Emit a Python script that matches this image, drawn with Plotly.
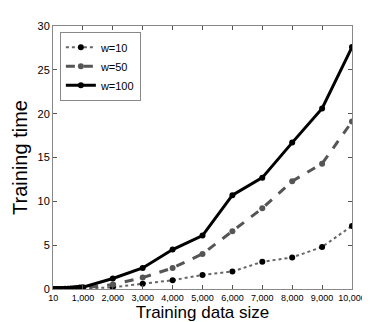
import plotly.graph_objects as go

x_sizes = [10, 100, 200, 300, 400, 500, 600, 700, 800, 900, 1000,
           2000, 3000, 4000, 5000, 6000, 7000, 8000, 9000, 10000]
w10 = [0.0, 0.0, 0.0, 0.0, 0.0, 0.0, 0.0, 0.01, 0.01, 0.02, 0.03,
       0.2, 0.6, 1.0, 1.6, 2.0, 3.1, 3.6, 4.8, 7.2]
w50 = [0.0, 0.0, 0.0, 0.0, 0.01, 0.02, 0.03, 0.04, 0.06, 0.08, 0.1,
       0.5, 1.3, 2.4, 4.0, 6.6, 9.2, 12.3, 14.3, 19.1]
w100 = [0.0, 0.0, 0.0, 0.01, 0.02, 0.04, 0.06, 0.09, 0.12, 0.16, 0.2,
        1.2, 2.4, 4.5, 6.1, 10.7, 12.7, 16.7, 20.6, 27.6]

x_ticks = [10, 1000, 2000, 3000, 4000, 5000, 6000, 7000, 8000, 9000, 10000]
x_tick_text = ["10", "1,000", "2,000", "3,000", "4,000", "5,000",
               "6,000", "7,000", "8,000", "9,000", "10,000"]
y_ticks = [0, 5, 10, 15, 20, 25, 30]

FONT = "Liberation Sans"

fig = go.Figure()
fig.add_trace(go.Scatter(
    x=x_sizes, y=w10, name="w=10", mode="lines+markers",
    line=dict(color="#666666", width=2, dash="dot"),
    marker=dict(color="black", size=6, symbol="circle")))
fig.add_trace(go.Scatter(
    x=x_sizes, y=w50, name="w=50", mode="lines+markers",
    line=dict(color="#555555", width=3, dash="dash"),
    marker=dict(color="#555555", size=6, symbol="circle")))
fig.add_trace(go.Scatter(
    x=x_sizes, y=w100, name="w=100", mode="lines+markers",
    line=dict(color="black", width=3),
    marker=dict(color="black", size=6, symbol="circle")))

axis_common = dict(
    showgrid=False, zeroline=False, showline=True, mirror="ticks",
    linecolor="#888888", linewidth=1, ticks="inside", ticklen=4,
    tickcolor="#555555")

fig.update_xaxes(range=[0, 10000], tickvals=x_ticks, ticktext=x_tick_text,
                 tickangle=0, tickfont=dict(family=FONT, size=9, color="black"),
                 title=dict(text="Training data size", standoff=3,
                            font=dict(family=FONT, size=17, color="black")),
                 **axis_common)
fig.update_yaxes(range=[0, 30], tickvals=y_ticks,
                 tickfont=dict(family=FONT, size=11, color="black"),
                 title=dict(text="Training time", standoff=4,
                            font=dict(family=FONT, size=20, color="black")),
                 **axis_common)

fig.update_layout(
    width=370, height=322,
    margin=dict(l=40, r=20, t=12, b=32),
    paper_bgcolor="white", plot_bgcolor="white",
    legend=dict(x=0.023, y=0.978, xanchor="left", yanchor="top",
                bordercolor="#888888", borderwidth=1, bgcolor="white",
                font=dict(family=FONT, size=11, color="black"),
                tracegroupgap=0, itemwidth=30),
    showlegend=True,
)

fig.write_html("out.html")
